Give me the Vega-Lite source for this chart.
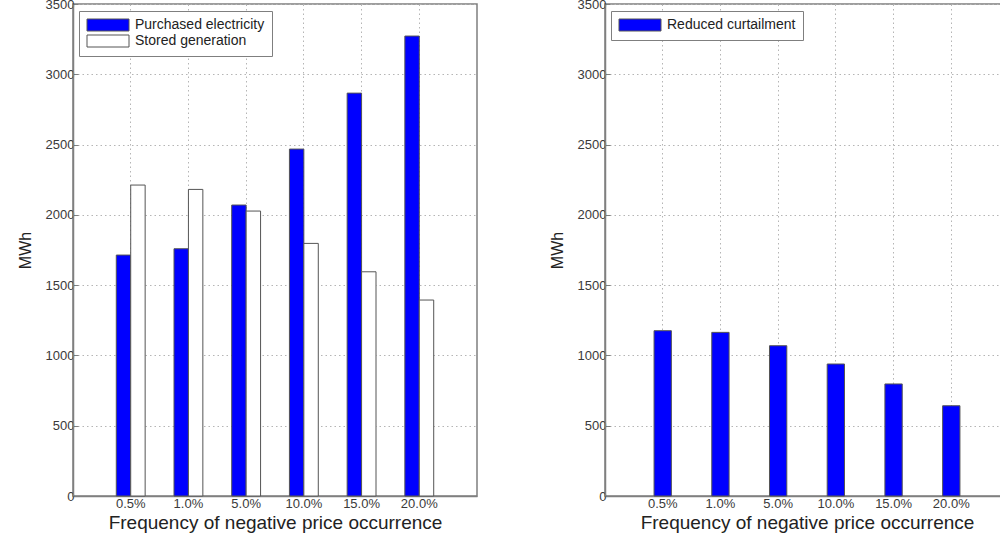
{
  "$schema": "https://vega.github.io/schema/vega-lite/v6.json",
  "padding": {"left": 16, "top": -3, "right": 0, "bottom": 0},
  "background": "white",
  "spacing": 70,
  "config": {
    "font": "Liberation Sans",
    "view": {"stroke": "#7f7f7f", "strokeWidth": 1.5},
    "axis": {
      "labelFont": "Liberation Sans",
      "titleFont": "Liberation Sans",
      "labelColor": "#3a3a3a",
      "titleColor": "#222222",
      "domainColor": "#7f7f7f",
      "domainWidth": 1.5,
      "tickColor": "#7f7f7f",
      "tickSize": -5,
      "labelFontSize": 13,
      "titleFontWeight": "normal",
      "gridColor": "#b5b5b5",
      "gridDash": [1.5, 3],
      "gridWidth": 1
    },
    "legend": {
      "labelFont": "Liberation Sans",
      "labelFontSize": 14,
      "labelColor": "#222222",
      "strokeColor": "#7f7f7f",
      "fillColor": "white",
      "padding": 7,
      "symbolType": "M-1,-1H6V1H-1Z",
      "symbolSize": 144,
      "symbolStrokeColor": "#555555",
      "symbolStrokeWidth": 1,
      "labelOffset": 35,
      "rowPadding": 0,
      "orient": "none"
    }
  },
  "datasets": {
    "left": [
      {"freq": "0.5%", "series": "Purchased electricity", "value": 1714},
      {"freq": "0.5%", "series": "Stored generation", "value": 2212},
      {"freq": "1.0%", "series": "Purchased electricity", "value": 1759},
      {"freq": "1.0%", "series": "Stored generation", "value": 2181},
      {"freq": "5.0%", "series": "Purchased electricity", "value": 2070},
      {"freq": "5.0%", "series": "Stored generation", "value": 2027},
      {"freq": "10.0%", "series": "Purchased electricity", "value": 2468},
      {"freq": "10.0%", "series": "Stored generation", "value": 1797},
      {"freq": "15.0%", "series": "Purchased electricity", "value": 2866},
      {"freq": "15.0%", "series": "Stored generation", "value": 1595},
      {"freq": "20.0%", "series": "Purchased electricity", "value": 3272},
      {"freq": "20.0%", "series": "Stored generation", "value": 1394}
    ],
    "right": [
      {"freq": "0.5%", "series": "Reduced curtailment", "value": 1176},
      {"freq": "1.0%", "series": "Reduced curtailment", "value": 1164},
      {"freq": "5.0%", "series": "Reduced curtailment", "value": 1069},
      {"freq": "10.0%", "series": "Reduced curtailment", "value": 939},
      {"freq": "15.0%", "series": "Reduced curtailment", "value": 797},
      {"freq": "20.0%", "series": "Reduced curtailment", "value": 642}
    ]
  },
  "hconcat": [
    {
      "width": 404,
      "height": 492,
      "data": {"name": "left"},
      "mark": {"type": "bar", "stroke": "#555555", "strokeWidth": 1},
      "encoding": {
        "x": {
          "field": "freq", "type": "nominal",
          "sort": ["0.5%", "1.0%", "5.0%", "10.0%", "15.0%", "20.0%"],
          "scale": {"paddingInner": 0, "paddingOuter": 0.5},
          "axis": {"labelAngle": 0, "bandPosition": 0.5, "grid": true, "labelPadding": 6, "title": "Frequency of negative price occurrence", "titleFontSize": 19, "titlePadding": 3}
        },
        "xOffset": {
          "field": "series", "type": "nominal",
          "sort": ["Purchased electricity", "Stored generation"],
          "scale": {"paddingInner": 0, "paddingOuter": 1}
        },
        "y": {
          "field": "value", "type": "quantitative",
          "scale": {"domain": [0, 3500], "nice": false},
          "axis": {"values": [0, 500, 1000, 1500, 2000, 2500, 3000, 3500], "format": "d", "grid": true, "labelPadding": 4, "title": "MWh", "titleFontSize": 16, "titlePadding": 12}
        },
        "color": {
          "field": "series", "type": "nominal",
          "scale": {"domain": ["Purchased electricity", "Stored generation"], "range": ["#0000ff", "#ffffff"]},
          "legend": {"title": null, "legendX": 6, "legendY": 7}
        }
      }
    },
    {
      "width": 404,
      "height": 492,
      "data": {"name": "right"},
      "mark": {"type": "bar", "stroke": "#555555", "strokeWidth": 1, "width": {"band": 0.3}},
      "encoding": {
        "x": {
          "field": "freq", "type": "nominal",
          "sort": ["0.5%", "1.0%", "5.0%", "10.0%", "15.0%", "20.0%"],
          "scale": {"paddingInner": 0, "paddingOuter": 0.5},
          "axis": {"labelAngle": 0, "bandPosition": 0.5, "grid": true, "labelPadding": 6, "title": "Frequency of negative price occurrence", "titleFontSize": 19, "titlePadding": 3}
        },
        "y": {
          "field": "value", "type": "quantitative",
          "scale": {"domain": [0, 3500], "nice": false},
          "axis": {"values": [0, 500, 1000, 1500, 2000, 2500, 3000, 3500], "format": "d", "grid": true, "labelPadding": 4, "title": "MWh", "titleFontSize": 16, "titlePadding": 12}
        },
        "color": {
          "field": "series", "type": "nominal",
          "scale": {"domain": ["Reduced curtailment"], "range": ["#0000ff"]},
          "legend": {"title": null, "legendX": 6, "legendY": 7}
        }
      }
    }
  ],
  "resolve": {"scale": {"color": "independent"}, "legend": {"color": "independent"}}
}
